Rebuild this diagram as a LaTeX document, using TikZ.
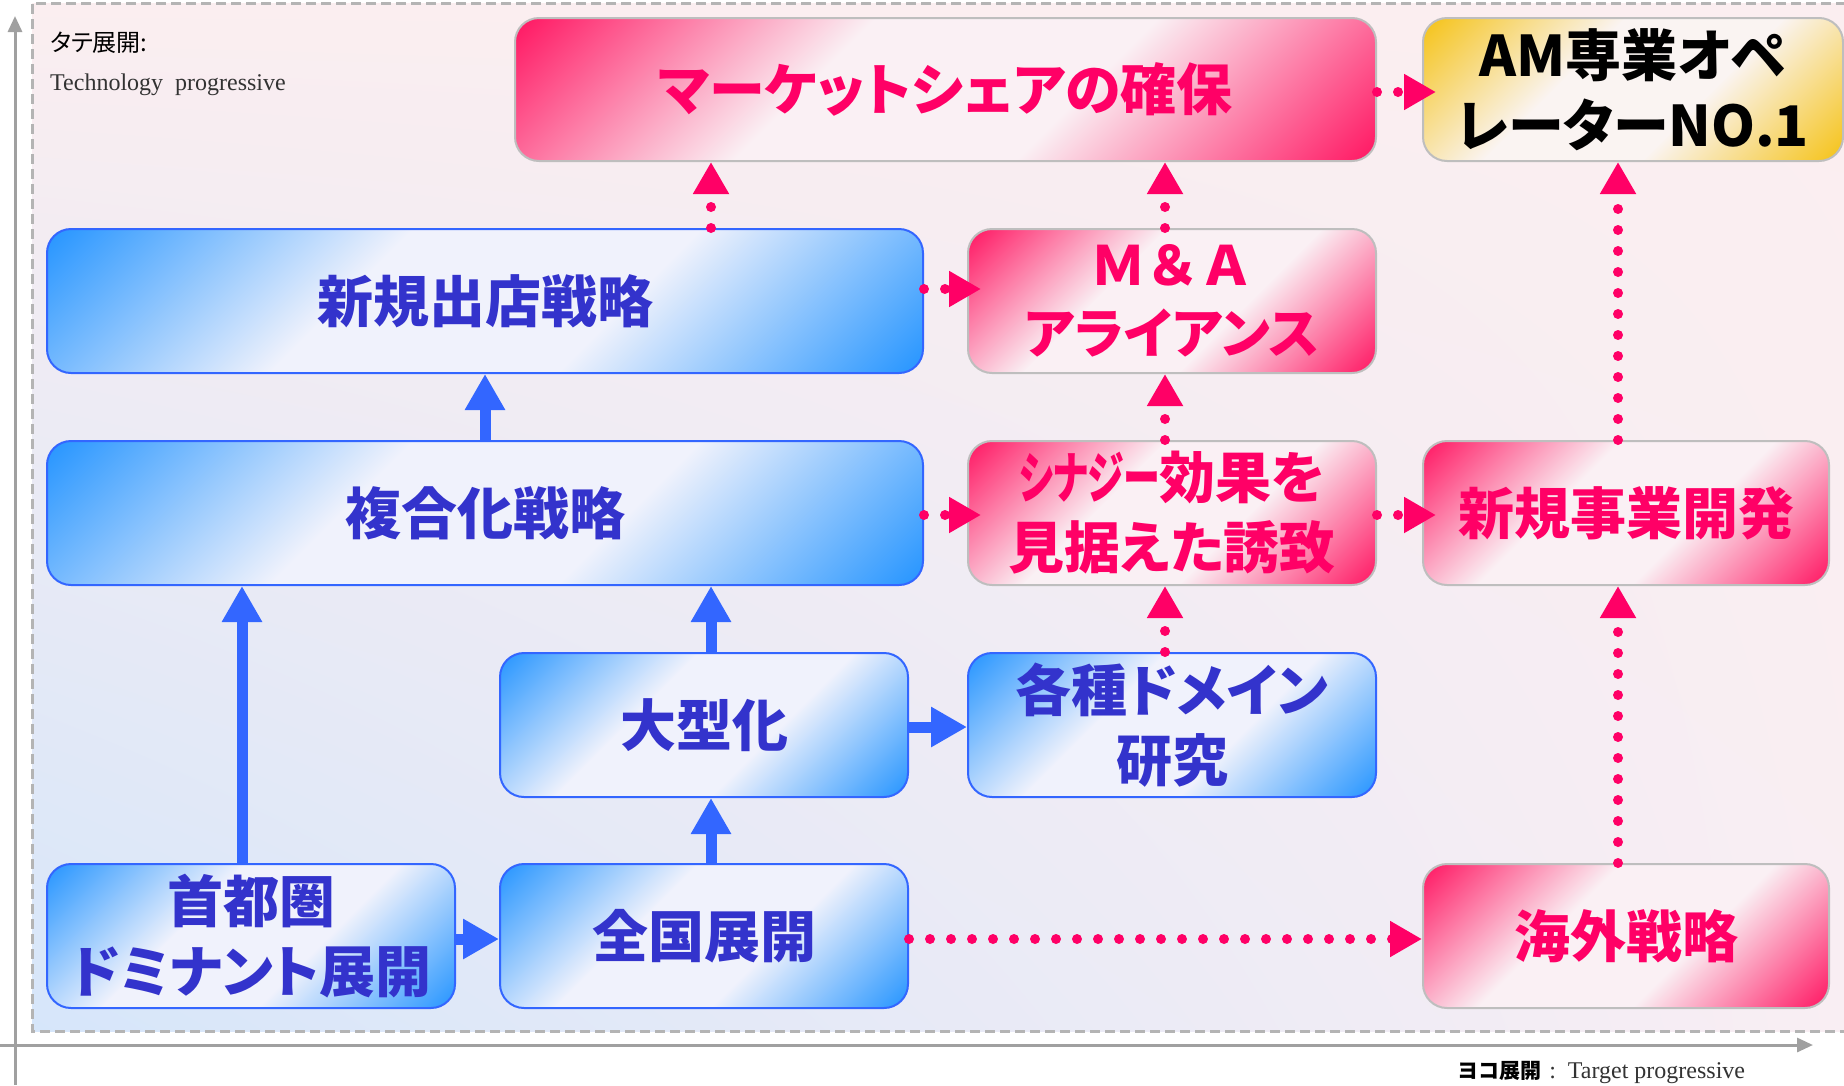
\documentclass[tikz,border=0pt]{standalone}
\usepackage{fontspec}
\usepackage{graphicx}
\usetikzlibrary{arrows.meta,shadings}
\newfontfamily\jp{Noto Sans CJK JP}[RawFeature=+palt]
\newfontfamily\jpw{Noto Sans CJK JP}
\newfontfamily\tms{Liberation Serif}
\definecolor{bshade}{RGB}{40,150,255}
\definecolor{bmid}{RGB}{240,242,252}
\definecolor{pshade}{RGB}{255,25,100}
\definecolor{pmid}{RGB}{250,240,244}
\definecolor{gshade}{RGB}{245,195,25}
\definecolor{gmid}{RGB}{250,244,242}
\definecolor{bborder}{RGB}{51,102,255}
\definecolor{gborder}{RGB}{190,190,190}
\definecolor{btext}{RGB}{51,51,204}
\definecolor{ptext}{RGB}{255,0,102}
\definecolor{barrowc}{RGB}{51,102,255}
\definecolor{parrowc}{RGB}{255,0,102}
\definecolor{bgpink}{RGB}{251,238,240}
\definecolor{bgpink2}{RGB}{249,238,243}
\definecolor{bgblue}{RGB}{214,230,250}
\definecolor{axisc}{RGB}{160,160,160}
\definecolor{framec}{RGB}{180,180,180}
\pgfdeclarehorizontalshading{blueshade}{100bp}{color(0bp)=(bshade); color(15bp)=(bshade); color(40bp)=(bmid); color(60bp)=(bmid); color(85bp)=(bshade); color(100bp)=(bshade)}
\pgfdeclarehorizontalshading{pinkshade}{100bp}{color(0bp)=(pshade); color(15bp)=(pshade); color(40bp)=(pmid); color(60bp)=(pmid); color(85bp)=(pshade); color(100bp)=(pshade)}
\pgfdeclarehorizontalshading{goldshade}{100bp}{color(0bp)=(gshade); color(15bp)=(gshade); color(40bp)=(gmid); color(60bp)=(gmid); color(85bp)=(gshade); color(100bp)=(gshade)}
\tikzset{
  box/.style={rounded corners=24pt, minimum height=144pt, inner sep=0pt, line width=2pt, align=center, font=\jp\bfseries\fontsize{56}{70}\selectfont},
  bbox/.style={box, draw=bborder, shading=blueshade, shading angle=-45, text=btext},
  pbox/.style={box, draw=gborder, shading=pinkshade, shading angle=-45, text=ptext},
  ybox/.style={box, draw=gborder, shading=goldshade, shading angle=-45, text=black},
  barrow/.style={draw=barrowc, line width=11pt, -{Triangle[length=36pt,width=38pt]}},
  parrow/.style={draw=parrowc, line width=10pt, line cap=round, dash pattern=on 0pt off 21pt, -{Triangle[length=32pt,width=34pt]}},
  overlap/.style={shorten >=-14pt},
  axisline/.style={draw=axisc, line width=3pt, -{Triangle[length=16pt,width=14pt]}},
  framedash/.style={draw=framec, line width=3pt, dash pattern=on 10pt off 5pt},
}
\begin{document}
\begin{tikzpicture}[x=1pt,y=-1pt]
\useasboundingbox (0,0) rectangle (1844,1085);
\fill[white] (0,0) rectangle (1844,1085);
% background panel
\shade[upper left=bgpink, upper right=bgpink, lower right=bgpink2, lower left=bgblue] (32,3) rectangle (1846,1031);
\draw[framedash] (1846,3) -- (32,3) -- (32,1031) -- (1846,1031);
% axes
\coordinate (vax0) at (15,1085);
\coordinate (vax1) at (15,16);
\coordinate (hax0) at (0,1045);
\coordinate (hax1) at (1813,1045);
\draw[axisline] (vax0) -- (vax1);
\draw[axisline] (hax0) -- (hax1);
% labels
\node[anchor=west, inner sep=0pt, font=\jp\fontsize{24}{28}\selectfont] (tlab) at (50,43) {タテ展開:};
\node[anchor=west, inner sep=0pt, font=\tms\fontsize{24}{28}\selectfont, text=black!80] (tlab2) at (50,85) {Technology\ \ progressive};
\node[anchor=west, inner sep=0pt] (ylab) at (1458,1072) {{\jp\bfseries\fontsize{21}{24}\selectfont ヨコ展開}\hspace{8pt}{\tms\fontsize{24}{26}\selectfont\color{black!80}:\hspace{12pt}Target progressive}};
% boxes
\node[pbox, minimum width=861pt, minimum height=143pt] (mkt) at (945.5,89.5) {マーケットシェアの確保};
\node[ybox, minimum width=420pt, minimum height=143pt] (am) at (1633,89.5) {AM専業オペ\\レーターNO.1};
\node[bbox, minimum width=876pt] (shinki) at (485,301) {新規出店戦略};
\node[pbox, minimum width=408pt, font=\jp\bfseries\fontsize{54}{68}\selectfont] (ma) at (1172,301) {{\jpw Ｍ＆Ａ}\\アライアンス};
\node[bbox, minimum width=876pt] (fukugo) at (485,513) {複合化戦略};
\node[pbox, minimum width=408pt] (syn) at (1172,513) {\scalebox{0.66}[1]{シナジー}効果を\\見据えた誘致};
\node[pbox, minimum width=406pt] (shinjigyo) at (1626,513) {新規事業開発};
\node[bbox, minimum width=408pt] (ogata) at (704,725) {大型化};
\node[bbox, minimum width=408pt] (domain) at (1172,725) {各種ドメイン\\研究};
\node[bbox, minimum width=408pt] (shuto) at (251,936) {首都圏\\ドミナント展開};
\node[bbox, minimum width=408pt] (zenkoku) at (704,936) {全国展開};
\node[pbox, minimum width=406pt] (kaigai) at (1626,936) {海外戦略};
% guide coordinates
\coordinate (xa) at (242,0);
\coordinate (xb) at (711,0);
\coordinate (xc) at (485,0);
\coordinate (xd) at (1165,0);
\coordinate (xe) at (1618,0);
\coordinate (ya) at (0,92);
\coordinate (yb) at (0,289);
\coordinate (yc) at (0,515);
\coordinate (yd) at (0,727);
\coordinate (ye) at (0,939);
% blue arrows
\draw[barrow] (shuto.north -| xa) -- (fukugo.south -| xa);
\draw[barrow] (zenkoku.north -| xb) -- (ogata.south -| xb);
\draw[barrow] (ogata.north -| xb) -- (fukugo.south -| xb);
\draw[barrow] (fukugo.north -| xc) -- (shinki.south -| xc);
\draw[barrow] (shuto.east |- ye) -- (zenkoku.west |- ye);
\draw[barrow] (ogata.east |- yd) -- (domain.west |- yd);
% pink dotted arrows
\draw[parrow] (shinki.north -| xb) -- (mkt.south -| xb);
\draw[parrow] (ma.north -| xd) -- (mkt.south -| xd);
\draw[parrow, overlap] (mkt.east |- ya) -- (am.west |- ya);
\draw[parrow, overlap] (shinki.east |- yb) -- (ma.west |- yb);
\draw[parrow, overlap] (fukugo.east |- yc) -- (syn.west |- yc);
\draw[parrow] (syn.north -| xd) -- (ma.south -| xd);
\draw[parrow] (domain.north -| xd) -- (syn.south -| xd);
\draw[parrow, overlap] (syn.east |- yc) -- (shinjigyo.west |- yc);
\draw[parrow] (shinjigyo.north -| xe) -- (am.south -| xe);
\draw[parrow] (kaigai.north -| xe) -- (shinjigyo.south -| xe);
\draw[parrow] (zenkoku.east |- ye) -- (kaigai.west |- ye);
\end{tikzpicture}
\end{document}
